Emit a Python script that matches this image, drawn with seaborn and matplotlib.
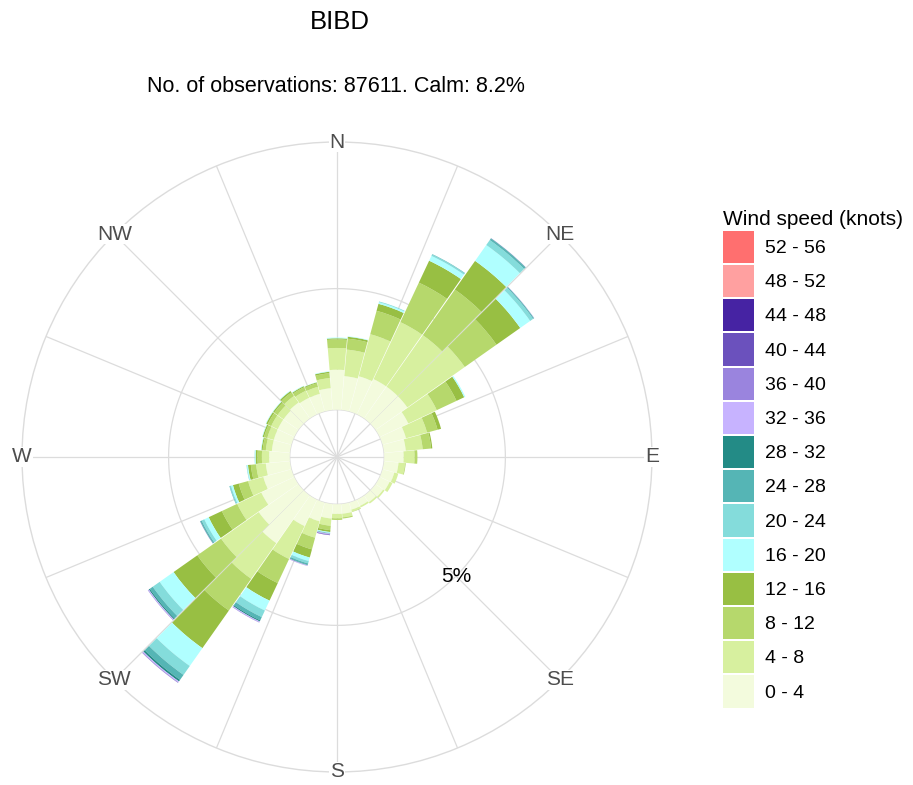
import numpy as np
import pandas as pd
import matplotlib
matplotlib.use("Agg")
import matplotlib.pyplot as plt
from matplotlib.patches import Patch
import seaborn as sns

# wind direction bins (degrees, 10 degree sectors)
directions = list(range(0, 360, 10))

# speed bin labels (knots), lowest first
speed_bins = ["0 - 4", "4 - 8", "8 - 12", "12 - 16", "16 - 20", "20 - 24", "24 - 28",
              "28 - 32", "32 - 36", "36 - 40", "40 - 44", "44 - 48", "48 - 52", "52 - 56"]

bin_colors = ["#f3fbdd", "#d7f09f", "#b6d86c", "#98bf43", "#b0ffff", "#84dcdb", "#55b5b5",
              "#238b86", "#c7b3ff", "#9a84de", "#6b51bd", "#4623a3", "#ffa0a0", "#ff6f6f"]

# frequency (%) per direction for each speed bin
spd_0_4 = [1.65, 1.40, 1.50, 1.60, 1.60, 1.60, 1.30, 1.00, 0.90, 0.80, 0.60, 0.50,
           0.45, 0.38, 0.33, 0.28, 0.30, 0.40, 0.40, 0.60, 0.80, 1.20, 2.40, 2.00,
           1.50, 1.20, 1.00, 0.85, 0.75, 0.75, 0.75, 0.75, 0.80, 0.75, 0.75, 0.90]
spd_4_8 = [0.90, 1.10, 1.80, 2.60, 2.60, 2.90, 1.30, 0.90, 0.70, 0.45, 0.27, 0.17,
           0.13, 0.07, 0.07, 0.07, 0.08, 0.15, 0.18, 0.30, 0.70, 1.50, 1.80, 1.90,
           1.10, 0.65, 0.40, 0.30, 0.25, 0.28, 0.30, 0.30, 0.33, 0.32, 0.30, 0.42]
spd_8_12 = [0.35, 0.45, 1.00, 1.80, 2.30, 1.60, 0.90, 0.45, 0.35, 0.12, 0.03, 0.00,
            0.00, 0.00, 0.00, 0.00, 0.02, 0.05, 0.07, 0.18, 0.50, 1.10, 1.60, 1.20,
            0.70, 0.40, 0.22, 0.18, 0.13, 0.14, 0.16, 0.17, 0.18, 0.16, 0.15, 0.20]
spd_12_16 = [0.05, 0.08, 0.30, 1.00, 1.45, 1.20, 0.35, 0.15, 0.05, 0.00, 0.00, 0.00,
             0.00, 0.00, 0.00, 0.00, 0.00, 0.00, 0.00, 0.08, 0.35, 0.80, 1.90, 1.20,
             0.60, 0.25, 0.12, 0.08, 0.05, 0.06, 0.07, 0.06, 0.07, 0.05, 0.04, 0.06]
spd_16_20 = [0.03, 0.02, 0.07, 0.22, 0.80, 0.50, 0.05, 0.00, 0.00, 0.00, 0.00, 0.00,
             0.00, 0.00, 0.00, 0.00, 0.00, 0.00, 0.00, 0.03, 0.15, 0.45, 0.90, 0.70,
             0.20, 0.08, 0.04, 0.03, 0.02, 0.02, 0.02, 0.02, 0.02, 0.02, 0.01, 0.02]
spd_20_24 = [0.00, 0.00, 0.03, 0.06, 0.25, 0.15, 0.00, 0.00, 0.00, 0.00, 0.00, 0.00,
             0.00, 0.00, 0.00, 0.00, 0.00, 0.00, 0.00, 0.02, 0.10, 0.30, 0.45, 0.35,
             0.12, 0.05, 0.02, 0.01, 0.00, 0.00, 0.00, 0.00, 0.00, 0.00, 0.00, 0.00]
spd_24_28 = [0.00, 0.00, 0.00, 0.02, 0.07, 0.04, 0.00, 0.00, 0.00, 0.00, 0.00, 0.00,
             0.00, 0.00, 0.00, 0.00, 0.00, 0.00, 0.00, 0.01, 0.06, 0.15, 0.25, 0.15,
             0.05, 0.02, 0.00, 0.00, 0.00, 0.00, 0.00, 0.00, 0.00, 0.00, 0.00, 0.00]
spd_28_32 = [0.00, 0.00, 0.00, 0.00, 0.02, 0.01, 0.00, 0.00, 0.00, 0.00, 0.00, 0.00,
             0.00, 0.00, 0.00, 0.00, 0.00, 0.00, 0.00, 0.01, 0.02, 0.05, 0.08, 0.05,
             0.02, 0.00, 0.00, 0.00, 0.00, 0.00, 0.00, 0.00, 0.00, 0.00, 0.00, 0.00]
spd_32_36 = [0.00, 0.00, 0.00, 0.00, 0.01, 0.01, 0.00, 0.00, 0.00, 0.00, 0.00, 0.00,
             0.00, 0.00, 0.00, 0.00, 0.00, 0.00, 0.00, 0.02, 0.02, 0.03, 0.04, 0.03,
             0.01, 0.00, 0.00, 0.00, 0.00, 0.00, 0.00, 0.00, 0.00, 0.00, 0.00, 0.00]
spd_36_40 = [0.00, 0.00, 0.00, 0.00, 0.00, 0.00, 0.00, 0.00, 0.00, 0.00, 0.00, 0.00,
             0.00, 0.00, 0.00, 0.00, 0.00, 0.00, 0.00, 0.02, 0.01, 0.02, 0.02, 0.02,
             0.00, 0.00, 0.00, 0.00, 0.00, 0.00, 0.00, 0.00, 0.00, 0.00, 0.00, 0.00]
spd_40_44 = [0.00, 0.00, 0.00, 0.00, 0.00, 0.00, 0.00, 0.00, 0.00, 0.00, 0.00, 0.00,
             0.00, 0.00, 0.00, 0.00, 0.00, 0.00, 0.00, 0.01, 0.00, 0.00, 0.01, 0.00,
             0.00, 0.00, 0.00, 0.00, 0.00, 0.00, 0.00, 0.00, 0.00, 0.00, 0.00, 0.00]
spd_44_48 = [0.00, 0.00, 0.00, 0.00, 0.00, 0.00, 0.00, 0.00, 0.00, 0.00, 0.00, 0.00,
             0.00, 0.00, 0.00, 0.00, 0.00, 0.00, 0.00, 0.01, 0.00, 0.00, 0.00, 0.00,
             0.00, 0.00, 0.00, 0.00, 0.00, 0.00, 0.00, 0.00, 0.00, 0.00, 0.00, 0.00]
spd_48_52 = [0.00] * 36
spd_52_56 = [0.00] * 36

compass = ["N", "NE", "E", "SE", "S", "SW", "W", "NW"]

sns.set_style("white")
plt.rcParams["font.family"] = ["Liberation Sans", "DejaVu Sans"]

df = pd.DataFrame(dict(zip(speed_bins, [spd_0_4, spd_4_8, spd_8_12, spd_12_16, spd_16_20,
                                        spd_20_24, spd_24_28, spd_28_32, spd_32_36,
                                        spd_36_40, spd_40_44, spd_44_48, spd_48_52,
                                        spd_52_56])), index=directions)
palette = sns.color_palette(bin_colors)

calm_r = 1.95   # radius of the empty calm circle, in % units
r_max = 13.0
grid_col = "#dcdcdc"

fig = plt.figure(figsize=(9.13, 7.85), dpi=100)
ax = fig.add_axes([0.0241, 0.0166, 0.690, 0.8025], projection="polar")
ax.set_theta_zero_location("N")
ax.set_theta_direction(-1)
ax.set_ylim(0, r_max)
ax.set_xticks([])
ax.set_yticks([])
ax.grid(False)
ax.spines["polar"].set_color(grid_col)
ax.spines["polar"].set_linewidth(1.0)

# spokes and rings
for a in np.arange(0, 360, 22.5):
    ax.plot([np.deg2rad(a)] * 2, [0, r_max], color=grid_col, lw=0.9, zorder=1)
circ = np.linspace(0, 2 * np.pi, 500)
for r in [calm_r, calm_r + 5]:
    ax.plot(circ, np.full_like(circ, r), color=grid_col, lw=0.9, zorder=1)

# stacked petals
theta = np.deg2rad(df.index.values)
bottom = np.full(len(df), calm_r)
for col, c in zip(df.columns, palette):
    vals = df[col].values
    ax.bar(theta, vals, width=np.deg2rad(9.7), bottom=bottom, color=c,
           linewidth=0, zorder=2)
    bottom = bottom + vals

for i, lab in enumerate(compass):
    ax.text(np.deg2rad(i * 45), r_max, lab, ha="center", va="center", fontsize=15,
            color="#4d4d4d", zorder=5, clip_on=False,
            bbox=dict(facecolor="white", edgecolor="none", pad=0.5))
ax.text(np.deg2rad(135), calm_r + 5, "5%", ha="center", va="center", fontsize=15,
        color="black", zorder=5)

fig.text(340 / 913, 1 - 22 / 785, "BIBD", ha="center", va="center", fontsize=18.5,
         color="black")
fig.text(336 / 913, 1 - 87 / 785, "No. of observations: 87611. Calm: 8.2%",
         ha="center", va="center", fontsize=15.5, color="black")

handles = [Patch(facecolor=c, edgecolor="none", label=l)
           for l, c in zip(speed_bins[::-1], bin_colors[::-1])]
leg = fig.legend(handles=handles, title="Wind speed (knots)", loc="upper left",
                 bbox_to_anchor=(713 / 913, 1 - 200 / 785), frameon=False, fontsize=14,
                 title_fontsize=15, handlelength=1.6, handleheight=2.16,
                 labelspacing=0.11, handletextpad=0.55, borderpad=0, alignment="left")
for t in leg.get_texts():
    t.set_color("black")
leg.get_title().set_color("black")

fig.savefig("out.png", dpi=100)
